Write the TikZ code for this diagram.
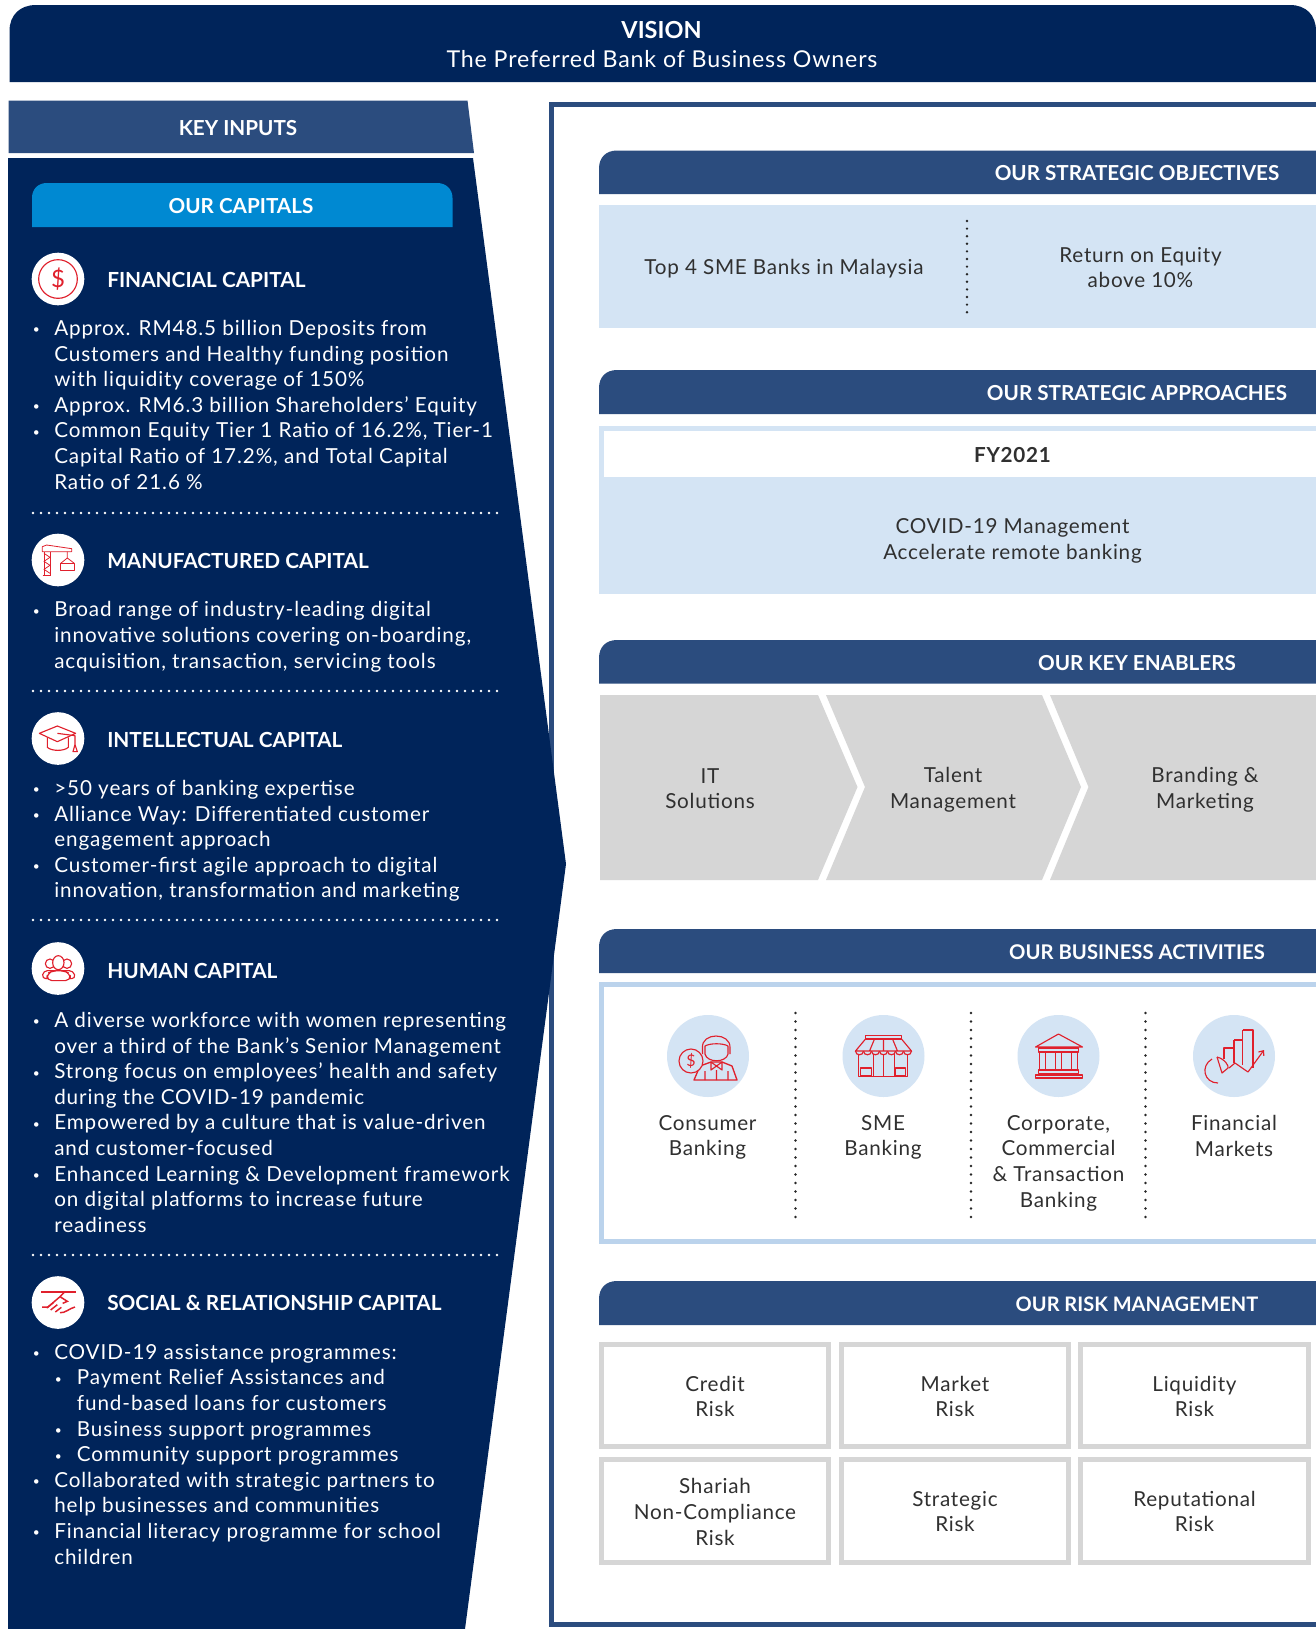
\documentclass[tikz,border=0pt]{standalone}
\usepackage{fontspec}
\setmainfont{Lato}
\newfontfamily\widefam[LetterSpace=3.6]{Lato}
\newfontfamily\capfam[LetterSpace=4.4]{Lato}
\usetikzlibrary{arrows.meta}
\definecolor{navy}{HTML}{00245A}
\definecolor{midblue}{HTML}{2B4C7E}
\definecolor{capblue}{HTML}{0089D2}
\definecolor{paleblue}{HTML}{D4E4F4}
\definecolor{edgeblue}{HTML}{BBD3EC}
\definecolor{lightgrey}{HTML}{D6D6D6}
\definecolor{iconred}{HTML}{E0202C}
\definecolor{inkgrey}{HTML}{303030}
\newcommand{\bodyfont}{\widefam\fontsize{15.5}{19.2}\selectfont}
\newcommand{\leftfont}{\capfam\fontsize{15.5}{19.2}\selectfont}
\newcommand{\smallbul}{\hspace{0.5pt}\raisebox{1.2pt}{\fontsize{9}{9}\selectfont •}}
\newcommand{\capb}[1]{\makebox[16.5pt][l]{\smallbul}#1}
\newcommand{\capc}[1]{\makebox[16.5pt]{}#1}
\newcommand{\caps}[1]{\makebox[16.5pt]{}\makebox[17pt][l]{\smallbul}#1}
\newcommand{\capd}[1]{\makebox[33.5pt]{}#1}
\tikzset{
  capbody/.style={anchor=north west,inner sep=0pt,align=left,text=white,font=\leftfont},
  captitle/.style={anchor=west,inner sep=0pt,text=white,font=\fontsize{15.6}{18}\selectfont\bfseries},
  banner/.style={fill=midblue},
  bannertext/.style={inner sep=0pt,text=white,font=\fontsize{15.5}{18}\selectfont\bfseries},
  darktext/.style={inner sep=0pt,align=center,text=inkgrey,font=\bodyfont},
  capicon/.style={circle,fill=white,minimum size=39.5pt,inner sep=0pt},
  bizicon/.style={circle,fill=paleblue,minimum size=61.5pt,inner sep=0pt},
  riskbox/.style={draw=lightgrey,line width=3.75pt},
  whitedots/.style={white,line width=2.1pt,line cap=round,dash pattern=on 0pt off 6pt},
  inkdots/.style={black!85,line width=2pt,line cap=round,dash pattern=on 0pt off 5.7pt},
  bizdots/.style={black!85,line width=2pt,line cap=round,dash pattern=on 0pt off 6.375pt},
  icon/.style={draw=iconred,line width=0.85pt,line join=round},
  thinicon/.style={draw=iconred,line width=0.6pt,line join=round},
  chevron/.style={fill=lightgrey}
}
\begin{document}
\begin{tikzpicture}[x=0.75pt,y=-0.75pt]
\useasboundingbox (0,0) rectangle (1316,1629);
\fill[white] (0,0) rectangle (1316,1629);

% vision
\fill[navy] (9.5,82) -- (9.5,31) .. controls (9.5,15) and (20,5) .. (36,5) -- (1290,5) .. controls (1306,5) and (1316,15) .. (1316,31) -- (1316,82) -- cycle;
\node[inner sep=0pt,text=white,font=\fontsize{17.6}{20}\selectfont\bfseries] (visiontitle) at (661.5,30.5) {VISION};
\node[inner sep=0pt,text=white,font=\widefam\fontsize{17.4}{20}\selectfont] (visiontext) at (662,59) {The Preferred Bank of Business Owners};

% right frame
\draw[midblue,line width=3.75pt] (1316,104.7) -- (551,104.7) -- (551,1624.2) -- (1316,1624.2);

% key inputs and capitals
\fill[midblue] (8.5,100.5) -- (467.5,100.5) -- (474,153) -- (8.5,153) -- cycle;
\node[bannertext] (keyinputs) at (238,128.5) {KEY INPUTS};
\fill[navy] (8,158) -- (473,158) -- (566,864) -- (465,1629) -- (8,1629) -- cycle;
\fill[capblue] (32,227) -- (32,198) .. controls (32,189) and (38,183) .. (47,183) -- (437,183) .. controls (446,183) and (452.5,189) .. (452.5,198) -- (452.5,227) -- cycle;
\node[bannertext] (ourcapitals) at (241,206.5) {OUR CAPITALS};

% capital icons
\node[capicon] (icfin) at (58,279) {};
\node[capicon] (icman) at (58,560) {};
\node[capicon] (icint) at (58,738.5) {};
\node[capicon] (ichum) at (58,968.5) {};
\node[capicon] (icsoc) at (58,1302.5) {};

\draw[icon] (icfin) circle (14.5pt);
\node[inner sep=0pt,text=iconred,font=\fontsize{18}{20}\selectfont] (dollarfin) at (icfin) {\$};

\begin{scope}[shift={(20,520)},x=0.25pt,y=-0.25pt]
  % crane
  \draw[thinicon] (72,165) -- (72,95) (90,165) -- (90,95) (68,166) -- (94,166);
  \draw[thinicon] (72,100) -- (90,112) -- (72,124) -- (90,136) -- (72,148) -- (90,160);
  \draw[thinicon] (67,80) -- (80,75) -- (155,86) -- (155,95) -- (67,95) -- cycle;
  \draw[thinicon] (142,95) -- (142,114) (122,130) -- (142,114) -- (163,130);
  \draw[thinicon] (122,130) rectangle (163,151);
  % graduation cap
  \draw[icon] (58,640) -- (112,618) -- (167,640) -- (112,665) -- cycle;
  \draw[icon] (82,652) -- (82,682) .. controls (95,694) and (132,694) .. (145,682) -- (145,652);
  \draw[icon] (112,640) -- (165,647) -- (165,674);
  \draw[icon] (165,674) -- (172,695) -- (159,695) -- cycle;
\end{scope}
\begin{scope}[shift={(20,930)},x=0.25pt,y=-0.25pt]
  \draw[icon] (90,101) circle[radius=14];
  \draw[icon] (141,101) circle[radius=14];
  \draw[icon,fill=white,rounded corners=3pt] (66,146) -- (70,122) -- (160,122) -- (167,146) -- cycle;
  \draw[icon,fill=white] (115,98) ellipse[x radius=17,y radius=21];
  \draw[icon,fill=white,rounded corners=4pt] (80,152) -- (82,130) -- (100,122) -- (130,122) -- (150,130) -- (152,152) -- cycle;
\end{scope}
\begin{scope}[shift={(20,1260)},x=0.25pt,y=-0.25pt]
  \draw[iconred,line width=1.1pt] (63,96) -- (168,96);
  \draw[iconred,line width=1.1pt] (66,141) -- (84,141) -- (120,110) -- (132,98) (120,110) -- (142,124) -- (128,130);
  \draw[iconred,line width=1.1pt] (80,144) -- (100,128) (92,150) -- (112,134) (106,156) -- (124,142) (120,158) .. controls (135,160) and (148,145) .. (165,141);
\end{scope}

% capital titles
\node[captitle] (tfin) at (107,279.5) {FINANCIAL CAPITAL};
\node[captitle] (tman) at (107,560.5) {MANUFACTURED CAPITAL};
\node[captitle] (tint) at (107,739.5) {INTELLECTUAL CAPITAL};
\node[captitle] (thum) at (107,971) {HUMAN CAPITAL};
\node[captitle] (tsoc) at (107,1303) {SOCIAL \& RELATIONSHIP CAPITAL};

% capital text
\node[capbody] (bfin) at (32,320) {\capb{Approx. RM48.5 billion Deposits from}\\
\capc{Customers and Healthy funding position}\\
\capc{with liquidity coverage of 150\%}\\
\capb{Approx. RM6.3 billion Shareholders’ Equity}\\
\capb{Common Equity Tier 1 Ratio of 16.2\%, Tier-1}\\
\capc{Capital Ratio of 17.2\%, and Total Capital}\\
\capc{Ratio of 21.6 \%}};
\node[capbody] (bman) at (32,601.5) {\capb{Broad range of industry-leading digital}\\
\capc{innovative solutions covering on-boarding,}\\
\capc{acquisition, transaction, servicing tools}};
\node[capbody] (bint) at (32,780) {\capb{>50 years of banking expertise}\\
\capb{Alliance Way: Differentiated customer}\\
\capc{engagement approach}\\
\capb{Customer-first agile approach to digital}\\
\capc{innovation, transformation and marketing}};
\node[capbody] (bhum) at (32,1012) {\capb{A diverse workforce with women representing}\\
\capc{over a third of the Bank’s Senior Management}\\
\capb{Strong focus on employees’ health and safety}\\
\capc{during the COVID-19 pandemic}\\
\capb{Empowered by a culture that is value-driven}\\
\capc{and customer-focused}\\
\capb{Enhanced Learning \& Development framework}\\
\capc{on digital platforms to increase future}\\
\capc{readiness}};
\node[capbody] (bsoc) at (32,1344) {\capb{COVID-19 assistance programmes:}\\
\caps{Payment Relief Assistances and}\\
\capd{fund-based loans for customers}\\
\caps{Business support programmes}\\
\caps{Community support programmes}\\
\capb{Collaborated with strategic partners to}\\
\capc{help businesses and communities}\\
\capb{Financial literacy programme for school}\\
\capc{children}};

% separators
\draw[whitedots] (33,513) -- (498,513);
\draw[whitedots] (33,691) -- (498,691);
\draw[whitedots] (33,920) -- (498,920);
\draw[whitedots] (33,1255) -- (498,1255);

% right section banners
\foreach \ya/\yb in {150.5/194,370/414,640/683.5,929/973,1281/1325}{
  \fill[banner] (599,\yb) -- (599,\ya+18) .. controls (599,\ya+7) and (606,\ya) .. (617,\ya) -- (1316,\ya) -- (1316,\yb) -- cycle;
}
\node[bannertext] (hobj) at (1137,173.5) {OUR STRATEGIC OBJECTIVES};
\node[bannertext] (happ) at (1137,393.5) {OUR STRATEGIC APPROACHES};
\node[bannertext] (hena) at (1137,663.5) {OUR KEY ENABLERS};
\node[bannertext,font=\fontsize{15.2}{18}\selectfont\bfseries] (hbiz) at (1137,952.5) {OUR BUSINESS ACTIVITIES};
\node[bannertext,font=\fontsize{15}{18}\selectfont\bfseries] (hrsk) at (1137,1304.5) {OUR RISK MANAGEMENT};

% objectives
\fill[paleblue] (599,205) rectangle (1316,328);
\draw[inkdots] (967,221) -- (967,313);
\node[darktext] (obja) at (784,269) {Top 4 SME Banks in Malaysia};
\node[darktext] (objb) at (1140.5,267.5) {Return on Equity\\above 10\%};

% approaches
\fill[paleblue] (599,426) rectangle (1316,594);
\fill[white] (604,431) rectangle (1316,477);
\node[darktext,font=\bodyfont\bfseries] (fy) at (1012.5,455) {FY2021};
\node[darktext] (covid) at (1012.5,541) {COVID-19 Management\\Accelerate remote banking};

% enablers
\fill[chevron] (600,695) -- (818,695) -- (857.5,787) -- (818,880) -- (600,880) -- cycle;
\fill[chevron] (826,695) -- (1042,695) -- (1081,787) -- (1042,880) -- (826,880) -- (865,787) -- cycle;
\fill[chevron] (1050,695) -- (1316,695) -- (1316,880) -- (1050,880) -- (1088.5,787) -- cycle;
\node[darktext] (ena) at (710,788.5) {IT\\Solutions};
\node[darktext] (enb) at (953,790) {Talent\\Management};
\node[darktext] (enc) at (1205,790) {Branding \&\\Marketing};

% business activities
\draw[edgeblue,line width=3.75pt] (1316,984) -- (601.5,984) -- (601.5,1241) -- (1316,1241);
\draw[bizdots] (795.5,1013) -- (795.5,1218);
\draw[bizdots] (971,1013) -- (971,1218);
\draw[bizdots] (1145.5,1013) -- (1145.5,1218);
\node[bizicon] (bizc) at (708,1056) {};
\node[bizicon] (bizs) at (883.5,1056) {};
\node[bizicon] (bizb) at (1058.5,1056) {};
\node[bizicon] (bizf) at (1234,1056) {};

% consumer icon
\begin{scope}[shift={(708,1056)}]
  \draw[icon] (-5.5,-8) .. controls (-7,-24) and (23,-24) .. (22,-8) -- (22,-2) (-5.5,-8) -- (-5.5,-2);
  \draw[icon] (-3,-10) .. controls (2,-13) and (15,-13) .. (20,-10) -- (20,-2) .. controls (18,7) and (-1,7) .. (-3,-2) -- cycle;
  \draw[icon,line width=1pt] (-14,24) -- (-8,10) -- (3,6) -- (14,6) -- (24,10) -- (29,24) -- cycle;
  \draw[icon] (3,6) -- (14,14) -- (14,6) -- (3,14) -- cycle (8.5,14) -- (8.5,24) (-3,15) -- (-3,24) (20,15) -- (20,24);
  \draw[icon,fill=paleblue] (-17,5) circle (9pt);
  \node[inner sep=0pt,text=iconred,font=\fontsize{12}{14}\selectfont] (dollarbiz) at (-17,5) {\$};
\end{scope}
% shop icon
\begin{scope}[shift={(883.5,1056)}]
  \draw[icon] (-18,-20.5) rectangle (18,-17);
  \draw[icon] (-18,-17) -- (-28,-5) -- (28,-5) -- (18,-17) (-9,-17) -- (-14,-5) (0,-17) -- (0,-5) (9,-17) -- (14,-5);
  \foreach \a in {-28,-20,-12,-4,4,12,20}{
    \draw[icon] (\a,-5) .. controls (\a,0) and (\a+8,0) .. (\a+8,-5);
  }
  \draw[icon] (-25,-2) -- (-25,20.5) -- (24,20.5) -- (24,-2);
  \draw[icon] (-10,-2) -- (-10,20.5) (11,-2) -- (11,20.5) (0,-2) -- (0,20.5);
  \draw[icon] (-23,12) rectangle (-12,20);
  \draw[icon] (12,12) rectangle (22,20);
\end{scope}
% bank icon
\begin{scope}[shift={(1058.5,1056)}]
  \draw[icon] (0,-22) -- (24,-9) -- (-23,-9) -- cycle;
  \draw[icon] (-20,-8) rectangle (20,-4);
  \foreach \a in {-16,0,16}{\draw[icon] (\a-3,-4) rectangle (\a+3,14);}
  \draw[icon] (-20,14) rectangle (20,17.5);
  \draw[icon] (-23,19) rectangle (24,22);
\end{scope}
% chart icon
\begin{scope}[shift={(1234,1056)}]
  \draw[icon] (-10,3) -- (-10,-8) -- (0,-8) -- (0,7) (0,-16) -- (8.6,-16) -- (8.6,9) (8.6,-26) -- (19,-26) -- (19,12) (0,-8) -- (0,-16);
  \draw[icon] (8.6,-16) -- (8.6,-26);
  \draw[icon] (-22,3) .. controls (-34,10) and (-30,27) .. (-16,27);
  \draw[icon] (-17,1) .. controls (-9,3) and (-5,10) .. (-6,12) -- (-12,17) -- (-17,1);
  \draw[icon,-{Straight Barb[length=3pt,width=5pt]}] (-5,12) -- (1,7) -- (14,16) -- (30,-6);
\end{scope}

\node[darktext,anchor=north] (lc) at (707.5,1115) {Consumer\\Banking};
\node[darktext,anchor=north] (ls) at (883,1115) {SME\\Banking};
\node[darktext,anchor=north] (lb) at (1058.5,1115) {Corporate,\\Commercial\\\& Transaction\\Banking};
\node[darktext,anchor=north] (lf) at (1234,1115) {Financial\\Markets};

% risk boxes
\draw[riskbox] (601.5,1344.5) rectangle (828.5,1446.5);
\draw[riskbox] (841.5,1344.5) rectangle (1068.5,1446.5);
\draw[riskbox] (1080.5,1344.5) rectangle (1308.5,1446.5);
\draw[riskbox] (601.5,1459.5) rectangle (828.5,1562.5);
\draw[riskbox] (841.5,1459.5) rectangle (1068.5,1562.5);
\draw[riskbox] (1080.5,1459.5) rectangle (1308.5,1562.5);
\node[darktext] (ra) at (715,1396.5) {Credit\\Risk};
\node[darktext] (rb) at (955,1396.5) {Market\\Risk};
\node[darktext] (rc) at (1194.5,1396.5) {Liquidity\\Risk};
\node[darktext] (rd) at (715,1512) {Shariah\\Non-Compliance\\Risk};
\node[darktext] (re) at (955,1511.5) {Strategic\\Risk};
\node[darktext] (rf) at (1194.5,1511.5) {Reputational\\Risk};
\end{tikzpicture}
\end{document}
